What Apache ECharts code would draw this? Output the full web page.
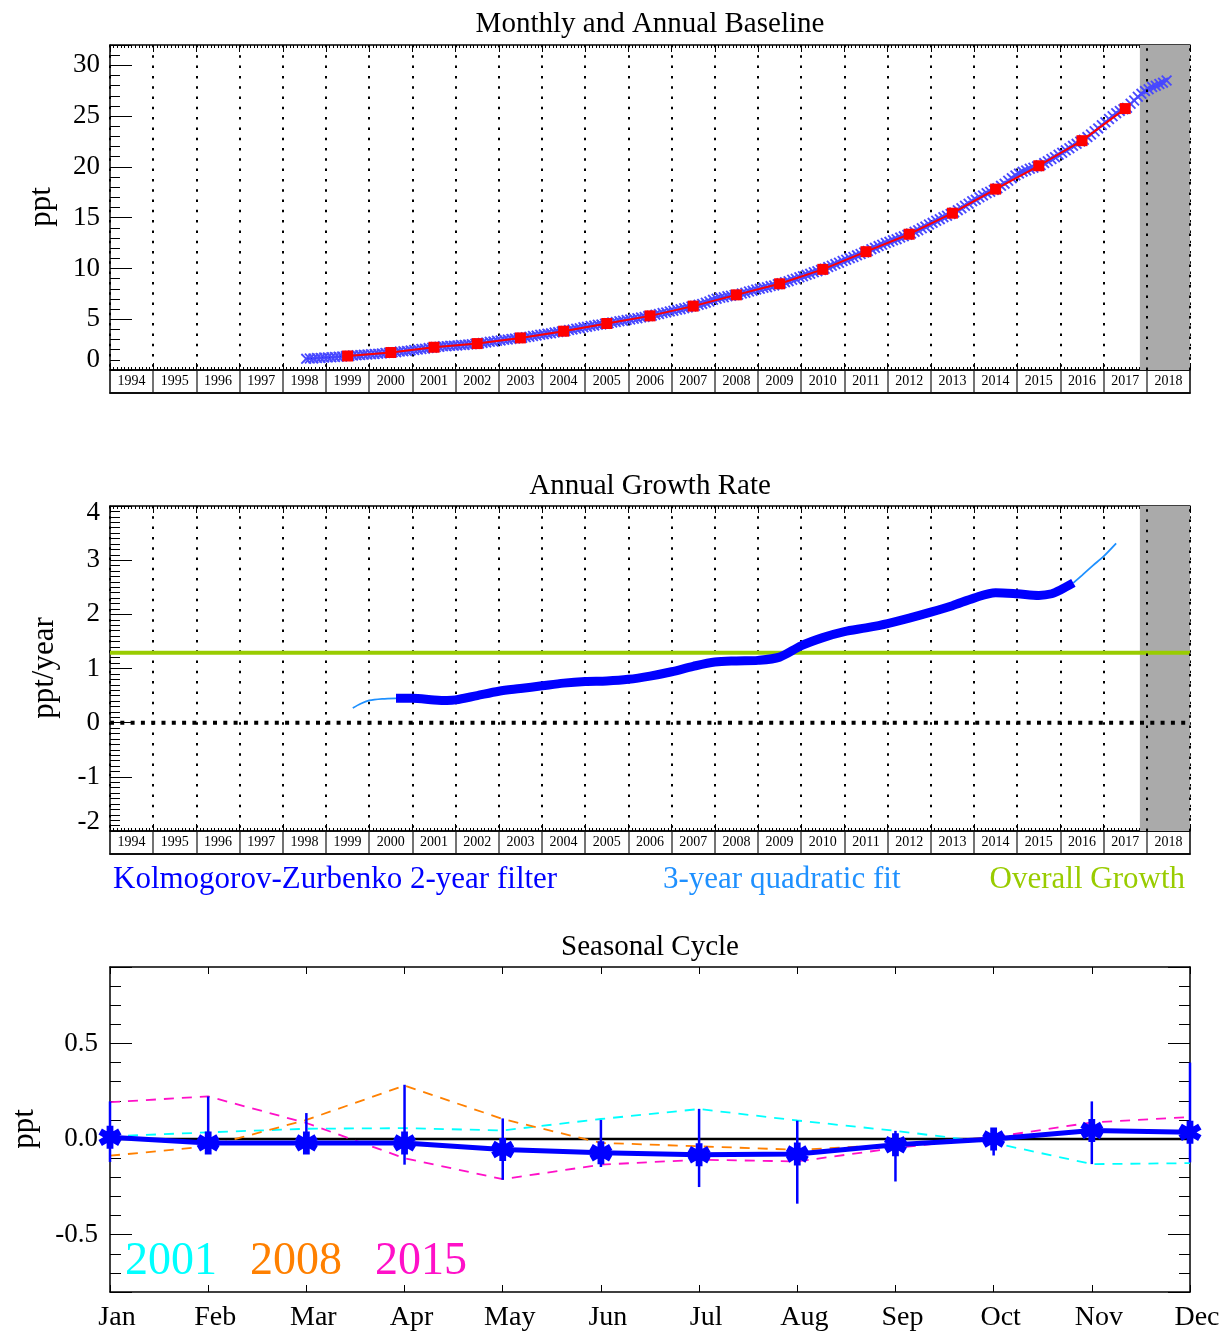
<!DOCTYPE html>
<html><head><meta charset="utf-8">
<script src="https://cdn.jsdelivr.net/npm/echarts@6/dist/echarts.min.js"></script>
<style>html,body{margin:0;padding:0;background:#fff}#c{width:1225px;height:1333px}</style>
</head><body><div id="c"></div>
<script>
// ---------- DATA ----------
const yearLabels = ['1994','1995','1996','1997','1998','1999','2000','2001','2002','2003','2004','2005','2006','2007','2008','2009','2010','2011','2012','2013','2014','2015','2016','2017','2018'];
const monthLabels = ['Jan','Feb','Mar','Apr','May','Jun','Jul','Aug','Sep','Oct','Nov','Dec'];
const xMin = 1994, xMax = 2019;
const shadeStart = 2017.84;

// monthly baseline, July 1998 .. June 2018 (ppt)
const monthlyStart = 1998 + 6.5 / 12;
const monthlyBaseline = [
  1.10, 1.13, 1.14, 1.18, 1.19, 1.23,
  1.24, 1.26, 1.28, 1.31, 1.33, 1.37, 1.39, 1.43, 1.45, 1.47, 1.51, 1.53,
  1.55, 1.58, 1.61, 1.63, 1.68, 1.70, 1.74, 1.76, 1.81, 1.85, 1.88, 1.93,
  1.97, 2.01, 2.07, 2.10, 2.16, 2.20, 2.27, 2.29, 2.34, 2.35, 2.39, 2.40,
  2.42, 2.46, 2.47, 2.52, 2.54, 2.59, 2.61, 2.67, 2.70, 2.77, 2.81, 2.88,
  2.91, 2.97, 3.00, 3.06, 3.09, 3.15, 3.17, 3.23, 3.27, 3.35, 3.39, 3.47,
  3.51, 3.58, 3.61, 3.69, 3.73, 3.80, 3.84, 3.93, 3.98, 4.07, 4.12, 4.21,
  4.25, 4.33, 4.37, 4.45, 4.49, 4.56, 4.60, 4.68, 4.72, 4.81, 4.85, 4.93,
  4.97, 5.05, 5.09, 5.18, 5.23, 5.31, 5.35, 5.45, 5.51, 5.61, 5.67, 5.77,
  5.83, 5.93, 5.99, 6.09, 6.16, 6.26, 6.32, 6.43, 6.51, 6.63, 6.74, 6.91,
  7.01, 7.11, 7.16, 7.26, 7.31, 7.39, 7.42, 7.53, 7.61, 7.73, 7.81, 7.93,
  7.99, 8.09, 8.15, 8.26, 8.33, 8.45, 8.53, 8.65, 8.75, 8.89, 8.99, 9.13,
  9.23, 9.37, 9.47, 9.62, 9.73, 9.85, 9.97, 10.13, 10.26, 10.43, 10.56, 10.73,
  10.85, 11.01, 11.13, 11.29, 11.42, 11.58, 11.72, 11.90, 12.03, 12.20, 12.33, 12.50,
  12.62, 12.77, 12.88, 13.04, 13.16, 13.31, 13.43, 13.61, 13.76, 13.96, 14.12, 14.33,
  14.49, 14.69, 14.85, 15.05, 15.19, 15.36, 15.52, 15.74, 15.93, 16.17, 16.37, 16.61,
  16.77, 17.01, 17.19, 17.41, 17.55, 17.73, 17.89, 18.13, 18.35, 18.63, 18.89, 19.16,
  19.34, 19.53, 19.65, 19.81, 19.91, 20.05, 20.17, 20.37, 20.55, 20.77, 20.96, 21.19,
  21.39, 21.63, 21.83, 22.07, 22.27, 22.49, 22.67, 22.93, 23.19, 23.51, 23.79, 24.11,
  24.39, 24.71, 24.99, 25.29, 25.51, 25.67, 25.81, 26.21, 26.54, 26.91, 27.19, 27.46,
  27.64, 27.86, 27.99, 28.16, 28.29, 28.51
];
const annualYears = [1999.5,2000.5,2001.5,2002.5,2003.5,2004.5,2005.5,2006.5,2007.5,2008.5,2009.5,2010.5,2011.5,2012.5,2013.5,2014.5,2015.5,2016.5,2017.5];
const annualBaseline = [1.38,1.72,2.24,2.60,3.16,3.82,4.58,5.33,6.29,7.40,8.49,9.91,11.65,13.37,15.44,17.81,20.11,22.58,25.74];

// growth rate (ppt/year)
const kzYears = [2000.62,2001.0,2001.5,2001.8,2002.0,2002.5,2003.0,2003.5,2004.0,2004.5,2005.0,2005.5,2006.0,2006.5,2007.0,2007.5,2008.0,2008.5,2009.0,2009.5,2010.0,2010.5,2011.0,2011.5,2012.0,2012.5,2013.0,2013.5,2014.0,2014.5,2015.0,2015.5,2015.8,2016.0,2016.3];
const kzRate  = [0.45,0.45,0.42,0.41,0.42,0.50,0.58,0.63,0.68,0.73,0.76,0.77,0.80,0.86,0.94,1.04,1.12,1.14,1.15,1.21,1.42,1.57,1.68,1.75,1.83,1.93,2.04,2.16,2.30,2.40,2.38,2.35,2.38,2.45,2.58];
const fitStartYears = [1999.62,1999.8,2000.0,2000.3,2000.62];
const fitStartRate  = [0.27,0.35,0.41,0.44,0.45];
const fitEndYears = [2016.3,2016.5,2016.75,2017.0,2017.29];
const fitEndRate  = [2.58,2.72,2.90,3.07,3.31];
const overallGrowth = 1.29;

// seasonal cycle (ppt)
const seasonalMean = [0.01,-0.02,-0.02,-0.02,-0.055,-0.072,-0.082,-0.078,-0.03,0.0,0.045,0.035];
const seasonalLow  = [-0.12,-0.06,-0.07,-0.134,-0.213,-0.146,-0.251,-0.338,-0.222,-0.086,-0.131,-0.122];
const seasonalHigh = [0.197,0.223,0.136,0.284,0.108,0.10,0.158,0.096,0.043,0.05,0.197,0.40];
const cycle2001 = [0.014,0.035,0.054,0.057,0.045,0.105,0.157,0.097,0.043,-0.02,-0.131,-0.126];
const cycle2008 = [-0.087,-0.038,0.10,0.28,0.105,-0.02,-0.038,-0.056,-0.03,0.01,0.04,0.035];
const cycle2015 = [0.193,0.223,0.084,-0.10,-0.21,-0.134,-0.108,-0.117,-0.047,0.01,0.087,0.115];

// ---------- CHART ----------
const FF = 'Liberation Serif';
const chart = echarts.init(document.getElementById('c'), null, {renderer: 'canvas'});
const pairs = (xs, ys) => xs.map((x, i) => [x, ys[i]]);
const monthlyPairs = monthlyBaseline.map((v, i) => [monthlyStart + i / 12, v]);

const X_SYM = 'path://M0,1.2L1.2,0L5,3.8L8.8,0L10,1.2L6.2,5L10,8.8L8.8,10L5,6.2L1.2,10L0,8.8L3.8,5Z';
const AST_SYM = 'path://M3.5,10L6.5,10L6.5,0L3.5,0Z M8.58,8.8L10.08,6.2L1.42,1.2L-0.08,3.8Z M-0.08,6.2L1.42,8.8L10.08,3.8L8.58,1.2Z';
const dotted = {color: '#000', type: [2.5, 7.8], width: 2};

function timeAxis(gridIndex, position, withSplit) {
  return {
    type: 'value', gridIndex, position, min: xMin, max: xMax, interval: 1,
    axisLine: {show: true, onZero: false, lineStyle: {color: '#000', width: 1.5}},
    axisTick: {show: true, inside: true, length: 7, lineStyle: {color: '#000', width: 1}},
    minorTick: {show: true, splitNumber: 12, length: 3, lineStyle: {color: '#000', width: 1}},
    axisLabel: {show: false},
    splitLine: {show: withSplit, lineStyle: dotted}
  };
}
function stripAxis(gridIndex) {
  return {
    type: 'category', gridIndex, position: 'bottom', data: yearLabels, boundaryGap: true,
    axisLine: {show: true, lineStyle: {color: '#000', width: 1.5}},
    axisTick: {show: false},
    axisLabel: {show: true, inside: true, margin: 5, fontFamily: FF, fontSize: 14, color: '#000', interval: 0},
    splitLine: {show: true, interval: 0, lineStyle: {color: '#444', width: 1.5}}
  };
}
const lbl = {fontFamily: FF, fontSize: 27, color: '#000'};
const txt = (text, x, y, color, size, align, rot) => ({
  type: 'text', x, y, rotation: rot || 0,
  style: {text, fill: color, font: size + 'px "Liberation Serif"', align, verticalAlign: 'middle'}
});

const option = {
  animation: false,
  backgroundColor: '#fff',
  grid: [
    {left: 110, top: 45, width: 1080, height: 325, outerBoundsMode: 'none'},
    {left: 110, top: 370, width: 1080, height: 23, show: true, borderColor: '#000', borderWidth: 1.5, outerBoundsMode: 'none'},
    {left: 110, top: 506, width: 1080, height: 325, outerBoundsMode: 'none'},
    {left: 110, top: 831, width: 1080, height: 23, show: true, borderColor: '#000', borderWidth: 1.5, outerBoundsMode: 'none'},
    {left: 110, top: 967, width: 1080, height: 325, outerBoundsMode: 'none'}
  ],
  xAxis: [
    timeAxis(0, 'bottom', true),
    timeAxis(0, 'top', false),
    stripAxis(1),
    timeAxis(2, 'bottom', true),
    timeAxis(2, 'top', false),
    stripAxis(3),
    {type: 'category', gridIndex: 4, position: 'bottom', data: monthLabels, boundaryGap: false,
     axisLine: {show: true, onZero: false, lineStyle: {color: '#000', width: 1.5}},
     axisTick: {show: true, inside: true, length: 7, lineStyle: {color: '#000'}},
     axisLabel: {show: true, margin: 12, fontFamily: FF, fontSize: 28, color: '#000', interval: 0, padding: [0, 0, 0, 14]},
     splitLine: {show: false}},
    {type: 'category', gridIndex: 4, position: 'top', data: monthLabels, boundaryGap: false,
     axisLine: {show: true, onZero: false, lineStyle: {color: '#000', width: 1.5}},
     axisTick: {show: true, inside: true, length: 7, lineStyle: {color: '#000'}},
     axisLabel: {show: false}, splitLine: {show: false}}
  ],
  yAxis: [
    {type: 'value', gridIndex: 0, min: 0, max: 32, splitNumber: 6,
     axisLine: {show: true, lineStyle: {color: '#000', width: 1.5}},
     axisTick: {show: true, inside: true, length: 22, lineStyle: {color: '#000'}},
     minorTick: {show: true, splitNumber: 5, length: 10, lineStyle: {color: '#000'}},
     splitLine: {show: false},
     axisLabel: Object.assign({}, lbl, {margin: 10, showMaxLabel: true,
       formatter: v => v === 0 ? '{lo|0}' : ((v % 5 === 0 && v <= 30) ? String(v) : ''),
       rich: {lo: Object.assign({}, lbl, {padding: [0, 0, 20, 0]})}})},
    {type: 'value', gridIndex: 1, show: false, min: 0, max: 1},
    {type: 'value', gridIndex: 2, min: -2, max: 4, interval: 1,
     axisLine: {show: true, lineStyle: {color: '#000', width: 1.5}},
     axisTick: {show: true, inside: true, length: 22, lineStyle: {color: '#000'}},
     minorTick: {show: true, splitNumber: 10, length: 10, lineStyle: {color: '#000'}},
     splitLine: {show: false},
     axisLabel: Object.assign({}, lbl, {margin: 10,
       formatter: v => v === 4 ? '{hi|4}' : (v === -2 ? '{lo|-2}' : String(v)),
       rich: {hi: Object.assign({}, lbl, {padding: [14, 0, 0, 0]}), lo: Object.assign({}, lbl, {padding: [0, 0, 18, 0]})}})},
    {type: 'value', gridIndex: 3, show: false, min: 0, max: 1},
    {type: 'value', gridIndex: 4, position: 'left', min: -0.8, max: 0.9, splitNumber: 3,
     axisLine: {show: true, onZero: false, lineStyle: {color: '#000', width: 1.5}},
     axisTick: {show: true, inside: true, length: 22, lineStyle: {color: '#000'}},
     minorTick: {show: true, splitNumber: 5, length: 11, lineStyle: {color: '#000'}},
     splitLine: {show: false},
     axisLabel: Object.assign({}, lbl, {margin: 12, showMinLabel: true, showMaxLabel: true,
       formatter: v => (Math.abs(v) <= 0.5 + 1e-9 && Math.abs(v * 2 - Math.round(v * 2)) < 1e-6) ? v.toFixed(1) : ''})},
    {type: 'value', gridIndex: 4, position: 'right', min: -0.8, max: 0.9, splitNumber: 3,
     axisLine: {show: true, onZero: false, lineStyle: {color: '#000', width: 1.5}},
     axisTick: {show: true, inside: true, length: 22, lineStyle: {color: '#000'}},
     minorTick: {show: true, splitNumber: 5, length: 11, lineStyle: {color: '#000'}},
     splitLine: {show: false}, axisLabel: {show: false}}
  ],
  series: [
    // --- top panel ---
    {type: 'line', name: 'monthly', xAxisIndex: 0, yAxisIndex: 0, data: monthlyPairs,
     symbol: X_SYM, symbolSize: 11, showAllSymbol: true,
     itemStyle: {color: '#4848ff'}, lineStyle: {color: '#0000ff', width: 1.5}, z: 3,
     markArea: {silent: true, itemStyle: {color: '#aaaaaa'}, data: [[{xAxis: shadeStart}, {xAxis: xMax}]]},
     markLine: {silent: true, symbol: 'none', label: {show: false}, lineStyle: dotted, data: [{xAxis: 2018}, {xAxis: 2019}]}},
    {type: 'line', name: 'annual', xAxisIndex: 0, yAxisIndex: 0, data: pairs(annualYears, annualBaseline),
     symbol: 'rect', symbolSize: 11, itemStyle: {color: '#ff0000'}, lineStyle: {color: '#ff0000', width: 2}, z: 4},
    // --- middle panel ---
    {type: 'line', name: 'zero', xAxisIndex: 3, yAxisIndex: 2, data: [[xMin, 0], [xMax, 0]], symbol: 'none',
     lineStyle: {color: '#000', type: [4, 6.3], width: 4}, z: 2,
     markArea: {silent: true, itemStyle: {color: '#aaaaaa'}, data: [[{xAxis: shadeStart}, {xAxis: xMax}]]},
     markLine: {silent: true, symbol: 'none', label: {show: false}, lineStyle: dotted, data: [{xAxis: 2018}, {xAxis: 2019}]}},
    {type: 'line', name: 'Overall Growth', xAxisIndex: 3, yAxisIndex: 2, data: [[xMin, overallGrowth], [xMax, overallGrowth]],
     symbol: 'none', lineStyle: {color: '#99cc00', width: 4}, z: 3},
    {type: 'line', name: 'fitStart', xAxisIndex: 3, yAxisIndex: 2, data: pairs(fitStartYears, fitStartRate),
     symbol: 'none', smooth: 0.3, lineStyle: {color: '#1e90ff', width: 1.8}, z: 4},
    {type: 'line', name: 'fitEnd', xAxisIndex: 3, yAxisIndex: 2, data: pairs(fitEndYears, fitEndRate),
     symbol: 'none', smooth: 0.3, lineStyle: {color: '#1e90ff', width: 1.8}, z: 4},
    {type: 'line', name: 'KZ', xAxisIndex: 3, yAxisIndex: 2, data: pairs(kzYears, kzRate),
     symbol: 'none', smooth: 0.3, lineStyle: {color: '#0000ff', width: 9, cap: 'butt'}, z: 5},
    // --- bottom panel ---
    {type: 'line', name: 'zeroS', xAxisIndex: 6, yAxisIndex: 4, data: monthLabels.map(() => 0), symbol: 'none',
     lineStyle: {color: '#000', width: 2.5}, z: 2},
    {type: 'line', name: '2001', xAxisIndex: 6, yAxisIndex: 4, data: cycle2001, symbol: 'none',
     lineStyle: {color: '#00ffff', width: 1.8, type: [10, 8]}, z: 3},
    {type: 'line', name: '2008', xAxisIndex: 6, yAxisIndex: 4, data: cycle2008, symbol: 'none',
     lineStyle: {color: '#ff8000', width: 1.8, type: [10, 8]}, z: 3},
    {type: 'line', name: '2015', xAxisIndex: 6, yAxisIndex: 4, data: cycle2015, symbol: 'none',
     lineStyle: {color: '#ff10c8', width: 1.8, type: [10, 8]}, z: 3},
    {type: 'custom', name: 'err', xAxisIndex: 6, yAxisIndex: 4, z: 4,
     data: monthLabels.map((m, i) => [i, seasonalLow[i], seasonalHigh[i]]),
     encode: {x: 0, y: [1, 2]},
     renderItem: (params, api) => {
       const p1 = api.coord([api.value(0), api.value(1)]);
       const p2 = api.coord([api.value(0), api.value(2)]);
       return {type: 'line', shape: {x1: p1[0], y1: p1[1], x2: p2[0], y2: p2[1]}, style: {stroke: '#0000ff', lineWidth: 2.5}};
     }},
    {type: 'line', name: 'mean', xAxisIndex: 6, yAxisIndex: 4, data: seasonalMean,
     symbol: AST_SYM, symbolSize: 23, showAllSymbol: true, itemStyle: {color: '#0000ff'},
     lineStyle: {color: '#0000ff', width: 5}, z: 5}
  ],
  graphic: [
    txt('Monthly and Annual Baseline', 650, 24, '#000', 29, 'center'),
    txt('Annual Growth Rate', 650, 486, '#000', 29, 'center'),
    txt('Seasonal Cycle', 650, 947, '#000', 29, 'center'),
    txt('ppt', 42, 207, '#000', 31, 'center', Math.PI / 2),
    txt('ppt/year', 45, 668, '#000', 31, 'center', Math.PI / 2),
    txt('ppt', 25, 1129, '#000', 31, 'center', Math.PI / 2),
    txt('Kolmogorov-Zurbenko 2-year filter', 113, 880, '#0000ff', 31, 'left'),
    txt('3-year quadratic fit', 663, 880, '#1e90ff', 31, 'left'),
    txt('Overall Growth', 1185, 880, '#99cc00', 31, 'right'),
    txt('2001', 125, 1262, '#00ffff', 46, 'left'),
    txt('2008', 250, 1262, '#ff8000', 46, 'left'),
    txt('2015', 375, 1262, '#ff10c8', 46, 'left')
  ]
};
chart.setOption(option);
</script>
</body></html>
